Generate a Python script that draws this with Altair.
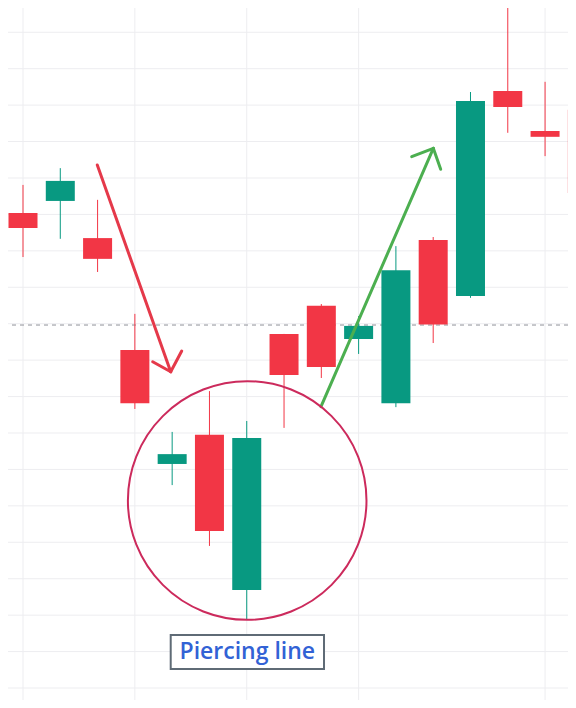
import altair as alt
import pandas as pd

# ---- candle data (price units) ----
idx = list(range(16))
opens  = [103.04, 103.37, 102.35, 99.28, 96.15, 96.95, 92.69, 99.72, 100.49, 99.58, 97.82, 102.30, 100.76, 106.39, 105.29, 105.87]
highs  = [103.81, 104.27, 103.40, 100.27, 97.03, 98.15, 97.33, 99.72, 100.54, 100.21, 102.13, 102.38, 106.36, 109.02, 106.64, 106.10]
lows   = [101.83, 102.33, 101.42, 97.66, 95.57, 93.90, 91.89, 97.14, 98.51, 99.17, 97.71, 99.47, 100.71, 105.24, 104.60, 103.40]
closes = [102.63, 103.92, 101.78, 97.82, 96.42, 94.31, 96.86, 98.59, 98.81, 99.94, 101.47, 99.98, 106.11, 105.95, 105.13, 103.59]

grid_x = [0, 3, 6, 9, 14]
grid_y = list(range(89, 109))
ref_level = 99.964

# arrows: segments (x1, y1, x2, y2)
red_arrow_x1 = [1.992, 3.478, 4.256]
red_arrow_y1 = [104.356, 98.957, 99.251]
red_arrow_x2 = [3.961, 3.961, 3.961]
red_arrow_y2 = [98.682, 98.682, 98.682]
green_arrow_x1 = [7.991, 10.424, 11.201]
green_arrow_y1 = [97.722, 104.584, 104.238]
green_arrow_x2 = [11.003, 11.003, 11.003]
green_arrow_y2 = [104.815, 104.815, 104.815]

circle_center = (6.012, 95.147)
label_text = "Piercing line"
label_box = (3.961, 8.072, 90.521, 91.455)
label_pos = (6.015, 90.99)

UP, DOWN = "#089981", "#F23645"

xs = alt.Scale(domain=[-0.4023, 14.615], nice=False, zero=False)
ys = alt.Scale(domain=[89.671, 108.666], nice=False, zero=False)

df = pd.DataFrame({"i": idx, "open": opens, "high": highs, "low": lows, "close": closes})
df["dir"] = ["up" if c >= o else "down" for o, c in zip(opens, closes)]
df["x0"] = df["i"] - 0.3889
df["x1"] = df["i"] + 0.3889
color = alt.Color("dir:N", scale=alt.Scale(domain=["up", "down"], range=[UP, DOWN]), legend=None)

gx = alt.Chart(pd.DataFrame({"x": grid_x})).mark_rule(color="#ededf0", strokeWidth=1).encode(
    x=alt.X("x:Q", scale=xs, axis=None))
gy = alt.Chart(pd.DataFrame({"y": grid_y})).mark_rule(color="#ededf0", strokeWidth=1, clip=True).encode(
    y=alt.Y("y:Q", scale=ys, axis=None))

dashed = alt.Chart(pd.DataFrame({"y": [ref_level]})).mark_rule(
    color="#8f9299", strokeWidth=1, strokeDash=[4, 4]).encode(y=alt.Y("y:Q", scale=ys, axis=None))

wicks = alt.Chart(df).mark_rule(strokeWidth=1, clip=True).encode(
    x=alt.X("i:Q", scale=xs, axis=None),
    y=alt.Y("low:Q", scale=ys, axis=None), y2="high:Q", color=color)
bodies = alt.Chart(df).mark_rect(clip=True).encode(
    x=alt.X("x0:Q", scale=xs, axis=None), x2="x1:Q",
    y=alt.Y("open:Q", scale=ys, axis=None), y2="close:Q", color=color)

def arrow(x1, y1, x2, y2, col):
    d = pd.DataFrame({"x1": x1, "y1": y1, "x2": x2, "y2": y2})
    return alt.Chart(d).mark_rule(color=col, strokeWidth=3, strokeCap="round").encode(
        x=alt.X("x1:Q", scale=xs, axis=None), y=alt.Y("y1:Q", scale=ys, axis=None),
        x2="x2:Q", y2="y2:Q")

red_arrow = arrow(red_arrow_x1, red_arrow_y1, red_arrow_x2, red_arrow_y2, "#E5394A")
green_arrow = arrow(green_arrow_x1, green_arrow_y1, green_arrow_x2, green_arrow_y2, "#4CAF50")

circle = alt.Chart(pd.DataFrame({"x": [circle_center[0]], "y": [circle_center[1]]})).mark_point(
    shape="circle", filled=False, size=56930, strokeWidth=2, color="#CC2A5C", opacity=1).encode(
    x=alt.X("x:Q", scale=xs, axis=None), y=alt.Y("y:Q", scale=ys, axis=None))

box = alt.Chart(pd.DataFrame({"x": [label_box[0]], "x2": [label_box[1]], "y": [label_box[2]], "y2": [label_box[3]]})).mark_rect(
    fill="white", stroke="#5F6B76", strokeWidth=2).encode(
    x=alt.X("x:Q", scale=xs, axis=None), x2="x2:Q",
    y=alt.Y("y:Q", scale=ys, axis=None), y2="y2:Q")
label = alt.Chart(pd.DataFrame({"x": [label_pos[0]], "y": [label_pos[1]], "t": [label_text]})).mark_text(
    font="Open Sans", fontSize=23, fontWeight=600, color="#3262D5", align="center", baseline="middle").encode(
    x=alt.X("x:Q", scale=xs, axis=None), y=alt.Y("y:Q", scale=ys, axis=None), text="t:N")

chart = alt.layer(gx, gy, dashed, wicks, bodies, red_arrow, green_arrow, circle, box, label).properties(
    width=560, height=692, padding=0, background="white",
    autosize=alt.AutoSizeParams(type="none")
).configure_view(stroke=None)

chart.save("out.html", embed_options={"renderer": "svg", "actions": False})
